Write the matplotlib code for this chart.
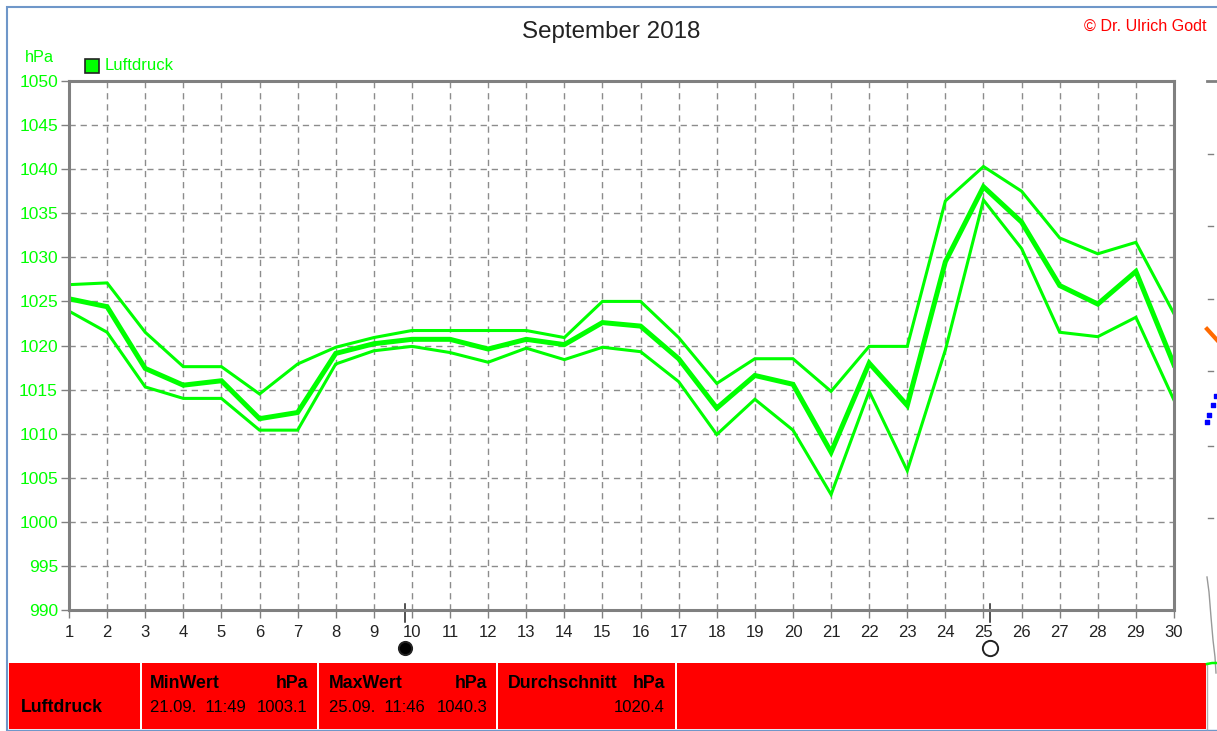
import matplotlib
matplotlib.use("Agg")
import matplotlib.pyplot as plt
from matplotlib.patches import Rectangle

# daily pressure values
days = list(range(1, 31))
p_max = [1026.9, 1027.1, 1021.5, 1017.6, 1017.6, 1014.5, 1017.9, 1019.8, 1020.9, 1021.7,
         1021.7, 1021.7, 1021.7, 1020.9, 1025.0, 1025.0, 1020.9, 1015.7, 1018.5, 1018.5,
         1014.8, 1019.9, 1019.9, 1036.4, 1040.3, 1037.5, 1032.2, 1030.4, 1031.7, 1023.6]
p_mean = [1025.3, 1024.4, 1017.4, 1015.5, 1016.0, 1011.7, 1012.4, 1019.1, 1020.2, 1020.7,
          1020.7, 1019.6, 1020.7, 1020.1, 1022.6, 1022.2, 1018.5, 1012.9, 1016.6, 1015.6,
          1007.9, 1018.0, 1013.2, 1029.5, 1038.0, 1034.0, 1026.8, 1024.7, 1028.4, 1017.8]
p_min = [1023.9, 1021.5, 1015.3, 1014.0, 1014.0, 1010.4, 1010.4, 1017.9, 1019.4, 1019.9,
         1019.2, 1018.1, 1019.7, 1018.4, 1019.8, 1019.3, 1015.9, 1009.9, 1013.9, 1010.4,
         1003.1, 1014.8, 1005.8, 1019.5, 1036.5, 1031.0, 1021.5, 1021.0, 1023.2, 1013.8]
y_ticks = list(range(990, 1051, 5))
new_moon = 9.82
full_moon = 25.18

W, H = 1217, 731
GREEN = "#00ff00"
GRAY = "#808080"
plt.rcParams["font.family"] = ["Liberation Sans", "DejaVu Sans"]

fig = plt.figure(figsize=(W / 100, H / 100), dpi=100)

# overlay in pixel coordinates for the window furniture
bg = fig.add_axes([0, 0, 1, 1], zorder=0)
bg.set_xlim(0, W)
bg.set_ylim(H, 0)
bg.axis("off")
bg.plot([7, 7, W], [H, 7, 7], color="#6f97c9", lw=1.5, solid_joinstyle="miter")
bg.plot([7, W], [730, 730], color="#6f97c9", lw=1.0)

# red status panel
for x0, x1 in [(9, 140), (142, 317), (319, 496), (498, 675), (677, 1206)]:
    bg.add_patch(Rectangle((x0, 663), x1 - x0, 66, facecolor="#ff0000", edgecolor="none"))
bg.plot([1206.5, 1206.5], [663, 729], color="#b0b0b0", lw=1)

BOLD = dict(fontsize=12.8, fontweight="bold", va="center", color="black")
PLAIN = dict(fontsize=12, va="center", color="black")
bg.text(150, 684, "MinWert", **BOLD)
bg.text(308, 684, "hPa", ha="right", **BOLD)
bg.text(150, 708, "21.09.  11:49", **PLAIN)
bg.text(307, 708, "1003.1", ha="right", **PLAIN)
bg.text(329, 684, "MaxWert", **BOLD)
bg.text(487, 684, "hPa", ha="right", **BOLD)
bg.text(329, 708, "25.09.  11:46", **PLAIN)
bg.text(487, 708, "1040.3", ha="right", **PLAIN)
bg.text(508, 684, "Durchschnitt", **BOLD)
bg.text(665, 684, "hPa", ha="right", **BOLD)
bg.text(665, 708, "1020.4", ha="right", **PLAIN)
bg.text(21, 708, "Luftdruck", **BOLD)

# titles and legend
bg.text(611, 32, "September 2018", fontsize=17.4, ha="center", va="center", color="#222222")
bg.text(1207, 26, "\u00a9 Dr. Ulrich Godt", fontsize=11.6, ha="right", va="center", color="#ff0000")
bg.text(25, 58, "hPa", fontsize=11.7, va="center", color=GREEN)
bg.add_patch(Rectangle((84.5, 58.5), 14, 14, facecolor=GREEN, edgecolor="#222222", lw=1.2))
bg.text(105, 65, "Luftdruck", fontsize=12, va="center", color=GREEN)

# fragments of the neighbouring chart at the right edge
bg.plot([1207, 1217], [81, 81], color=GRAY, lw=2)
for yy in [154, 226, 299, 371, 446, 518]:
    bg.plot([1208, 1213], [yy, yy], color=GRAY, lw=1)
bg.plot([1207, 1217], [329, 340], color="#ff6a00", lw=3)
bg.scatter([1207, 1209, 1213, 1216], [422, 415, 405, 396], color="#0000ff", s=5, marker="s")
bg.plot([1207, 1209, 1211, 1213, 1215, 1216], [577, 592, 617, 640, 657, 673], color="#999999", lw=1)
bg.plot([1207, 1212, 1217], [664, 663, 663], color=GREEN, lw=1.8)

ax = fig.add_axes([69 / W, 1 - 610 / H, (1174 - 69) / W, (610 - 81) / H], zorder=1)
ax.patch.set_alpha(0)
ax.set_xlim(1, 30)
ax.set_ylim(990, 1050)
ax.set_xticks(days)
ax.set_yticks(y_ticks)
ax.grid(True, color="#8c8c8c", linestyle=(0, (4.5, 3.5)), lw=1.0)
ax.set_axisbelow(True)
for s in ax.spines.values():
    s.set_color(GRAY)
    s.set_linewidth(2.2)
ax.tick_params(axis="x", length=6, width=1, color=GRAY, labelcolor="#222222", labelsize=12, pad=5)
ax.tick_params(axis="y", length=6, width=1, color=GRAY, labelcolor=GREEN, labelsize=12.5, pad=2)

ax.plot(days, p_max, color=GREEN, lw=2.2, solid_joinstyle="miter")
ax.plot(days, p_mean, color=GREEN, lw=3.6, solid_joinstyle="miter")
ax.plot(days, p_min, color=GREEN, lw=2.2, solid_joinstyle="miter")

# moon phases below the axis
trans = ax.get_xaxis_transform()
for d, face in [(new_moon, "black"), (full_moon, "white")]:
    ax.plot([d, d], [-0.023, 0.011], transform=trans, color="#222222", lw=1.1, clip_on=False)
    ax.plot([d], [-0.072], transform=trans, marker="o", ms=11 if face == "white" else 9.5,
            mfc=face, mec="#222222", mew=1.4, clip_on=False)

fig.savefig("out.png", dpi=100)
